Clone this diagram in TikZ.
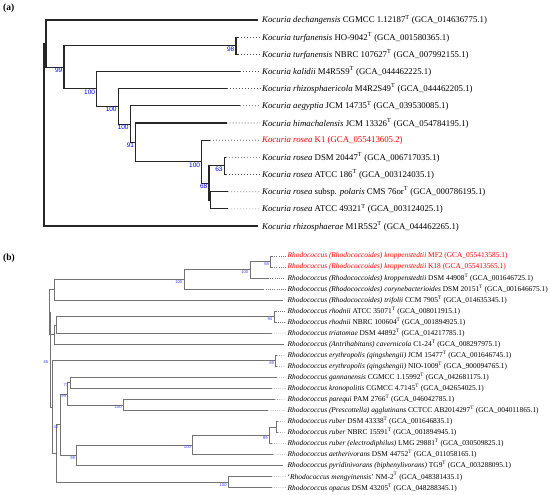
\documentclass[tikz,border=0pt]{standalone}
\usepackage{fontspec}
\setmainfont{Liberation Serif}
\newfontfamily\etiq{Liberation Sans}
\newcommand{\tipo}{\textsuperscript{T}}
\tikzset{
  rama/.style={line width=1.1pt, draw=black!85},
  ramab/.style={line width=0.8pt, draw=black!55},
  guia/.style={draw=black!70, line width=0.7pt, dash pattern=on 0.8pt off 2.2pt},
  guiab/.style={draw=black!55, line width=0.5pt, dash pattern=on 0.6pt off 1.6pt},
  taxon/.style={anchor=west, inner xsep=2pt, inner ysep=0pt, font=\fontsize{8.8}{10}\selectfont},
  taxonb/.style={anchor=west, inner xsep=2pt, inner ysep=0pt, font=\fontsize{7.4}{8}\selectfont},
  boot/.style={anchor=north east, inner sep=0pt, xshift=-1.5pt, yshift=-0.8pt, text=blue, font=\etiq\fontsize{6.5}{7}\selectfont},
  bootb/.style={boot, text=blue!75, font=\etiq\fontsize{4.2}{5}\selectfont},
  panel/.style={anchor=west, inner sep=0pt, font=\bfseries\fontsize{9.5}{10}\selectfont},
}

\begin{document}
\begin{tikzpicture}[x=1pt, y=-1pt]
          \useasboundingbox[fill=white] (0,0) rectangle (550,495);
          % (a)
          \node[panel] (pa) at (3,8.5) {(a)};
          \foreach \n/\x/\y in {rA/44/134.85, nR1/46/43.7, nA/64/67.35, nTf/236/45.75, nB/96.7/88.95,
              nC/118.3/106.4, nD/130.3/124.1, nE/135.7/142.3, nF/201.7/161.65, nG/209/183.1,
              nH/224.3/165.95, nI/210.7/200.3}
            \coordinate (\n) at (\x,\y);
          \foreach \i/\x in {0/258, 1/238, 2/238, 3/240, 4/226.7, 5/240, 6/226.7, 7/210, 8/226, 9/226,
              10/228.3, 11/228.3, 12/258}
            \coordinate (a\i) at (\x,{20+17.17*\i});
          \foreach \p/\c in {rA/nR1, rA/a12, nR1/a0, nR1/nA, nA/nTf, nA/nB, nTf/a1, nTf/a2, nB/a3, nB/nC,
              nC/a4, nC/nD, nD/a5, nD/nE, nE/a6, nE/nF, nF/a7, nF/nG, nG/nH, nG/nI, nH/a8, nH/a9,
              nI/a10, nI/a11}
            \draw[rama] (\p) |- (\c);
          \node[taxon] (ta0) at (260,20) {\textit{Kocuria dechangensis} CGMCC 1.12187\tipo{} (GCA\_014636775.1)};
          \node[taxon] (ta1) at (260,37.17) {\textit{Kocuria turfanensis} HO-9042\tipo{} (GCA\_001580365.1)};
          \node[taxon] (ta2) at (260,54.34) {\textit{Kocuria turfanensis} NBRC 107627\tipo{} (GCA\_007992155.1)};
          \node[taxon] (ta3) at (260,71.51) {\textit{Kocuria kalidii} M4R5S9\tipo{} (GCA\_044462225.1)};
          \node[taxon] (ta4) at (260,88.68) {\textit{Kocuria rhizosphaericola} M4R2S49\tipo{} (GCA\_044462205.1)};
          \node[taxon] (ta5) at (260,105.85) {\textit{Kocuria aegyptia} JCM 14735\tipo{} (GCA\_039530085.1)};
          \node[taxon] (ta6) at (260,123.02) {\textit{Kocuria himachalensis} JCM 13326\tipo{} (GCA\_054784195.1)};
          \node[taxon, text=red] (ta7) at (260,140.19) {\textit{Kocuria rosea} K1 (GCA\_055413605.2)};
          \node[taxon] (ta8) at (260,157.36) {\textit{Kocuria rosea} DSM 20447\tipo{} (GCA\_006717035.1)};
          \node[taxon] (ta9) at (260,174.53) {\textit{Kocuria rosea} ATCC 186\tipo{} (GCA\_003124035.1)};
          \node[taxon] (ta10) at (260,191.7) {\textit{Kocuria rosea} subsp. \textit{polaris} CMS 76or\tipo{} (GCA\_000786195.1)};
          \node[taxon] (ta11) at (260,208.87) {\textit{Kocuria rosea} ATCC 49321\tipo{} (GCA\_003124025.1)};
          \node[taxon] (ta12) at (260,226.04) {\textit{Kocuria rhizosphaerae} M1R5S2\tipo{} (GCA\_044462265.1)};
          \foreach \i in {1,...,11}
            \draw[guia] (a\i) -- (ta\i.west);
          \foreach \n/\t in {nTf/98, nA/99, nB/100, nC/100, nD/100, nE/91, nF/100, nG/68, nH/63}
            \node[boot] (s\n) at (\n) {\t};
          % (b)
          \node[panel] (pb) at (3,258) {(b)};
          \foreach \n/\x/\y in {nV/50/359.65, nS/49.3/312.2, nT/54.3/289.8, mC/184/279.45, mB/250/269.8,
              mA/270.7/261.5, nR/54.3/334.6, nQ/56.7/324.95, mR/274/316.7, nW/52/407.1, mE/275.7/360.8,
              nU/56.7/453.35, mK/60/424.6, mN/67.7/393.9, mG/70/382.85, mP/123.3/404.9, mT/76.7/455.25,
              mD/192.7/444.9, mL/269.3/435.25, mU/276.7/427, mO/228.3/482.1}
            \coordinate (\n) at (\x,\y);
          \foreach \i/\x in {0/272, 1/272, 2/268, 3/263.3, 4/283.3, 5/275.5, 6/275.5, 7/271.7, 8/284, 9/277,
              10/277, 11/276.7, 12/271.7, 13/275, 14/268.3, 15/278, 16/278, 17/272, 18/273.3, 19/283.3,
              20/271.7, 21/271.7}
            \coordinate (b\i) at (\x,{256+11.03*\i});
          \foreach \p/\c in {nV/nS, nV/nW, nS/nT, nS/nR, nT/mC, nT/b4, mC/mB, mC/b3, mB/mA, mB/b2, mA/b0, mA/b1,
              nR/nQ, nR/b8, nQ/mR, nQ/b7, mR/b5, mR/b6, nW/mE, nW/nU, mE/b9, mE/b10, nU/mK, nU/mO,
              mK/mN, mK/mT, mN/mG, mN/mP, mG/b11, mG/b12, mP/b13, mP/b14, mT/mD, mT/b19, mD/mL, mD/b18,
              mL/mU, mL/b17, mU/b15, mU/b16, mO/b20, mO/b21}
            \draw[ramab] (\p) |- (\c);
          \node[taxonb, text=red] (tb0) at (285.5,256) {\textit{Rhodococcus (Rhodococcoides) kroppenstedtii} MF2 (GCA\_055413585.1)};
          \node[taxonb, text=red] (tb1) at (285.5,267.03) {\textit{Rhodococcus (Rhodococcoides) kroppenstedtii} K18 (GCA\_055413565.1)};
          \node[taxonb] (tb2) at (285.5,278.06) {\textit{Rhodococcus (Rhodococcoides) kroppenstedtii} DSM 44908\tipo{} (GCA\_001646725.1)};
          \node[taxonb] (tb3) at (285.5,289.09) {\textit{Rhodococcus (Rhodococcoides) corynebacterioides} DSM 20151\tipo{} (GCA\_001646675.1)};
          \node[taxonb] (tb4) at (285.5,300.12) {\textit{Rhodococcus (Rhodococcoides) trifolii} CCM 7905\tipo{} (GCA\_014635345.1)};
          \node[taxonb] (tb5) at (285.5,311.15) {\textit{Rhodococcus rhodnii} ATCC 35071\tipo{} (GCA\_008011915.1)};
          \node[taxonb] (tb6) at (285.5,322.18) {\textit{Rhodococcus rhodnii} NBRC 100604\tipo{} (GCA\_001894925.1)};
          \node[taxonb] (tb7) at (285.5,333.21) {\textit{Rhodococcus triatomae} DSM 44892\tipo{} (GCA\_014217785.1)};
          \node[taxonb] (tb8) at (285.5,344.24) {\textit{Rhodococcus (Antrihabitans) cavernicola} C1-24\tipo{} (GCA\_008297975.1)};
          \node[taxonb] (tb9) at (285.5,355.27) {\textit{Rhodococcus erythropolis (qingshengii)} JCM 15477\tipo{} (GCA\_001646745.1)};
          \node[taxonb] (tb10) at (285.5,366.3) {\textit{Rhodococcus erythropolis (qingshengii)} NIO-1009\tipo{} (GCA\_900094765.1)};
          \node[taxonb] (tb11) at (285.5,377.33) {\textit{Rhodococcus gannanensis} CGMCC 1.15992\tipo{} (GCA\_042681175.1)};
          \node[taxonb] (tb12) at (285.5,388.36) {\textit{Rhodococcus kronopolitis} CGMCC 4.7145\tipo{} (GCA\_042654025.1)};
          \node[taxonb] (tb13) at (285.5,399.39) {\textit{Rhodococcus parequi} PAM 2766\tipo{} (GCA\_046042785.1)};
          \node[taxonb] (tb14) at (285.5,410.42) {\textit{Rhodococcus (Prescottella) agglutinans} CCTCC AB2014297\tipo{} (GCA\_004011865.1)};
          \node[taxonb] (tb15) at (285.5,421.45) {\textit{Rhodococcus ruber} DSM 43338\tipo{} (GCA\_001646835.1)};
          \node[taxonb] (tb16) at (285.5,432.48) {\textit{Rhodococcus ruber} NBRC 15591\tipo{} (GCA\_001894945.1)};
          \node[taxonb] (tb17) at (285.5,443.51) {\textit{Rhodococcus ruber (electrodiphilus)} LMG 29881\tipo{} (GCA\_030509825.1)};
          \node[taxonb] (tb18) at (285.5,454.54) {\textit{Rhodococcus aetherivorans} DSM 44752\tipo{} (GCA\_011058165.1)};
          \node[taxonb] (tb19) at (285.5,465.57) {\textit{Rhodococcus pyridinivorans (biphenylivorans)} TG9\tipo{} (GCA\_003288095.1)};
          \node[taxonb] (tb20) at (285.5,476.6) {`\textit{Rhodococcus mengyinensis}' NM-2\tipo{} (GCA\_048381435.1)};
          \node[taxonb] (tb21) at (285.5,487.63) {\textit{Rhodococcus opacus} DSM 43205\tipo{} (GCA\_048288345.1)};
          \foreach \i in {0,1,2,3,5,6,7,9,10,11,12,13,14,15,16,17,18,20,21}
            \draw[guiab] (b\i) -- (tb\i.west);
          \foreach \n/\t in {mA/68, mB/100, mC/100, mR/94, mE/89, mG/77, mP/100, mN/99, mL/99, mD/100,
              mT/99, mK/42, mO/100, nV/65}
            \node[bootb] (s\n) at (\n) {\t};
\end{tikzpicture}
\end{document}
